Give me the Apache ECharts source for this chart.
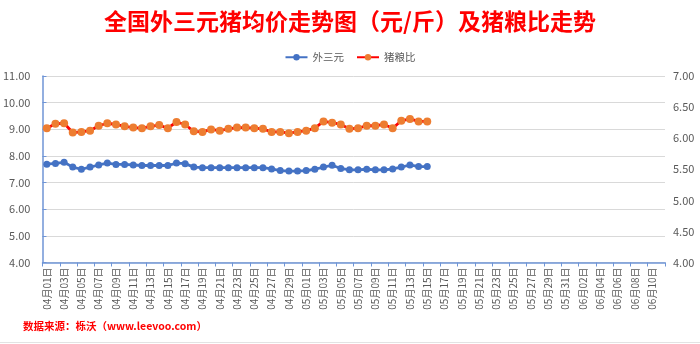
<!DOCTYPE html>
<html>
<head>
<meta charset="utf-8">
<script src="https://cdn.jsdelivr.net/npm/echarts@6/dist/echarts.min.js"></script>
<style>
  html, body { margin: 0; padding: 0; background: #fff; }
  #chart { width: 700px; height: 344px; }
</style>
</head>
<body>
<div id="chart"></div>
<script>
// Daily categories, 1 April to 11 June
var categories = [
  '04月01日','04月02日','04月03日','04月04日','04月05日','04月06日','04月07日','04月08日','04月09日','04月10日',
  '04月11日','04月12日','04月13日','04月14日','04月15日','04月16日','04月17日','04月18日','04月19日','04月20日',
  '04月21日','04月22日','04月23日','04月24日','04月25日','04月26日','04月27日','04月28日','04月29日','04月30日',
  '05月01日','05月02日','05月03日','05月04日','05月05日','05月06日','05月07日','05月08日','05月09日','05月10日',
  '05月11日','05月12日','05月13日','05月14日','05月15日','05月16日','05月17日','05月18日','05月19日','05月20日',
  '05月21日','05月22日','05月23日','05月24日','05月25日','05月26日','05月27日','05月28日','05月29日','05月30日',
  '05月31日','06月01日','06月02日','06月03日','06月04日','06月05日','06月06日','06月07日','06月08日','06月09日',
  '06月10日','06月11日'
];

// 外三元 average price (元/斤), left axis
var priceWaiSanYuan = [
  7.69, 7.72, 7.76, 7.58, 7.50, 7.58, 7.66, 7.73, 7.68, 7.68,
  7.66, 7.64, 7.64, 7.64, 7.64, 7.73, 7.71, 7.58, 7.56, 7.56,
  7.56, 7.56, 7.56, 7.56, 7.56, 7.56, 7.51, 7.45, 7.43, 7.43,
  7.45, 7.50, 7.58, 7.65, 7.53, 7.48, 7.48, 7.50, 7.48, 7.48,
  7.51, 7.58, 7.66, 7.60, 7.60
];

// 猪粮比, right axis
var pigGrainRatio = [
  6.16, 6.23, 6.24, 6.09, 6.10, 6.12, 6.20, 6.24, 6.22, 6.19,
  6.17, 6.16, 6.19, 6.21, 6.16, 6.26, 6.22, 6.11, 6.10, 6.14,
  6.12, 6.15, 6.17, 6.17, 6.16, 6.15, 6.10, 6.10, 6.08, 6.10,
  6.12, 6.16, 6.27, 6.25, 6.22, 6.15, 6.16, 6.20, 6.20, 6.22,
  6.16, 6.28, 6.31, 6.27, 6.27
];

var seriesNames = ['外三元', '猪粮比'];

var FONT = '"Noto Sans CJK SC", "Noto Sans", sans-serif';
var chart = echarts.init(document.getElementById('chart'), null, { renderer: 'canvas' });

chart.setOption({
  backgroundColor: '#ffffff',
  animation: false,
  title: {
    text: '全国外三元猪均价走势图（元/斤）及猪粮比走势',
    left: 'center',
    top: 5,
    textStyle: { color: '#ff0000', fontSize: 23, fontWeight: 'bold', fontFamily: FONT }
  },
  legend: {
    data: seriesNames,
    top: 47,
    left: 'center',
    itemWidth: 22,
    itemHeight: 8,
    itemGap: 12,
    textStyle: { color: '#595959', fontSize: 10.5, fontFamily: FONT }
  },
  grid: { left: 40, right: 35, top: 76, bottom: 81.5, containLabel: false },
  xAxis: {
    type: 'category',
    data: categories,
    boundaryGap: true,
    axisLine: { lineStyle: { color: '#6f95d6', width: 1.5 } },
    axisTick: { show: true, interval: 1, length: 4, lineStyle: { color: '#6f95d6' } },
    axisLabel: {
      interval: 1,
      rotate: 90,
      margin: 5,
      color: '#595959',
      fontSize: 10,
      fontFamily: FONT
    },
    splitLine: { show: false }
  },
  yAxis: [
    {
      type: 'value',
      min: 4,
      max: 11,
      interval: 1,
      position: 'left',
      axisLine: { show: true, lineStyle: { color: '#6f95d6', width: 1.5 } },
      axisTick: { show: true, inside: true, length: 4, lineStyle: { color: '#6f95d6' } },
      axisLabel: {
        margin: 12,
        color: '#595959',
        fontSize: 11,
        fontFamily: FONT,
        formatter: function (v) { return v.toFixed(2); }
      },
      splitLine: { show: true, lineStyle: { color: '#d9d9d9', width: 1 } }
    },
    {
      type: 'value',
      min: 4,
      max: 7,
      interval: 0.5,
      position: 'right',
      axisLine: { show: false },
      axisTick: { show: false },
      axisLabel: {
        margin: 8,
        color: '#595959',
        fontSize: 11,
        fontFamily: FONT,
        formatter: function (v) { return v.toFixed(2); }
      },
      splitLine: { show: false }
    }
  ],
  series: [
    {
      name: seriesNames[0],
      type: 'line',
      yAxisIndex: 0,
      data: priceWaiSanYuan,
      symbol: 'circle',
      symbolSize: 7,
      showAllSymbol: true,
      lineStyle: { color: '#4472c4', width: 2.8 },
      itemStyle: { color: '#4472c4' },
      z: 3
    },
    {
      name: seriesNames[1],
      type: 'line',
      yAxisIndex: 1,
      data: pigGrainRatio,
      symbol: 'circle',
      symbolSize: 8,
      showAllSymbol: true,
      lineStyle: { color: '#ff0000', width: 2.8 },
      itemStyle: { color: '#ed7d31' },
      z: 4
    }
  ],
  graphic: [
    {
      type: 'text',
      left: 23,
      top: 321,
      style: {
        text: '数据来源：栎沃（www.leevoo.com）',
        fill: '#ff0000',
        font: 'bold 10.5px ' + FONT
      }
    },
    {
      type: 'line',
      shape: { x1: 0, y1: 342.5, x2: 700, y2: 342.5 },
      style: { stroke: '#e3e3e3', lineWidth: 1 }
    }
  ]
});
</script>
</body>
</html>
